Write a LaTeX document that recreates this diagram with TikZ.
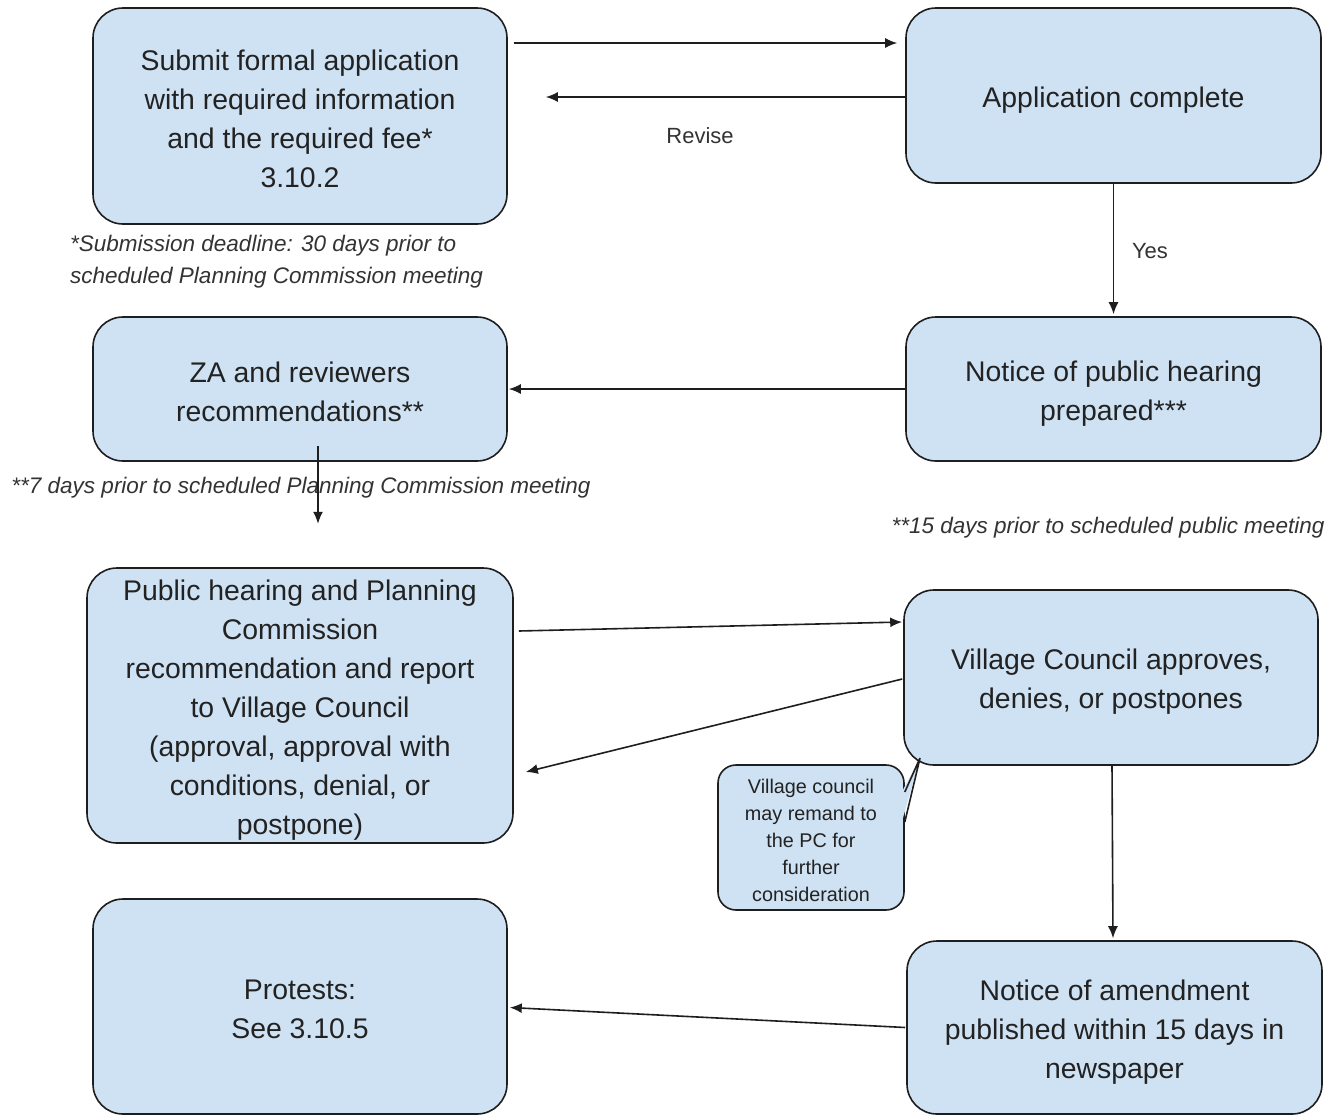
\documentclass[tikz,border=0pt]{standalone}
\usepackage{fontspec}
\setmainfont{Liberation Sans}
\usetikzlibrary{arrows.meta,calc}
\definecolor{boxfill}{HTML}{CFE2F3}
\definecolor{txt}{HTML}{222222}
\definecolor{notetxt}{HTML}{333333}
\definecolor{edge}{HTML}{1E1E1E}
\begin{document}
\begin{tikzpicture}[x=1pt,y=-1pt,
  box/.style={draw=edge,fill=boxfill,line width=1.6pt,rounded corners=30pt,inner sep=0pt},
  boxtext/.style={inner sep=0pt,align=center,text=txt,
    font=\fontsize{28.4}{39}\selectfont},
  calloutbox/.style={draw=edge,fill=boxfill,line width=1.6pt,rounded corners=18pt,inner sep=0pt},
  callouttext/.style={inner sep=0pt,align=center,text=txt,
    font=\fontsize{19.8}{26.8}\selectfont},
  note/.style={inner sep=0pt,text=notetxt,font=\fontsize{22.5}{32}\selectfont\itshape},
  lbl/.style={inner sep=0pt,text=notetxt,font=\fontsize{22}{26}\selectfont},
  conn/.style={draw=edge,line width=1.6pt,-{Latex[length=12pt,width=10pt]}}
]
\useasboundingbox (0,0) rectangle (1341,1114);
\fill[white] (0,0) rectangle (1341,1114);

% boxes
\node[box,minimum width=414pt,minimum height=216pt] (sub) at (300,116) {};
\node[boxtext] (subt) at ($(sub.center)+(0,3)$)
  {Submit formal application\\with required information\\and the required fee*\\3.10.2};
\node[box,minimum width=415pt,minimum height=175pt] (app) at (1113.5,95.5) {};
\node[boxtext] (appt) at ($(app.center)+(0,5)$) {Application complete};
\node[box,minimum width=414pt,minimum height=144pt] (za) at (300,389) {};
\node[boxtext] (zat) at ($(za.center)+(0,3)$) {ZA and reviewers\\recommendations**};
\node[box,minimum width=415pt,minimum height=144pt] (notice) at (1113.5,389) {};
\node[boxtext] (noticet) at ($(notice.center)+(0,4.5)$) {Notice of public hearing\\prepared***};
\node[box,minimum width=426pt,minimum height=275pt] (ph) at (300,705.5) {};
\node[boxtext] (pht) at ($(ph.center)+(0,4.5)$)
  {Public hearing and Planning\\Commission\\recommendation and report\\to Village Council\\(approval, approval with\\conditions, denial, or\\postpone)};
\node[box,minimum width=414pt,minimum height=175pt] (vc) at (1111,677.5) {};
\node[boxtext] (vct) at ($(vc.center)+(0,4.5)$) {Village Council approves,\\denies, or postpones};
\node[box,minimum width=414pt,minimum height=215pt] (prot) at (300,1006.5) {};
\node[boxtext] (prott) at ($(prot.center)+(0,2.5)$) {Protests:\\See 3.10.5};
\node[box,minimum width=415pt,minimum height=173pt] (amend) at (1114.5,1027.5) {};
\node[boxtext] (amendt) at ($(amend.center)+(0,4.5)$)
  {Notice of amendment\\published within 15 days in\\newspaper};

% callout
\node[calloutbox,minimum width=186pt,minimum height=145pt] (call) at (811,837.5) {};
\fill[boxfill] ($(call.east)+(-3,-45.5)$) coordinate (ta) -- (920,758) coordinate (tip)
  -- ($(call.east)+(-3,-15.5)$) coordinate (tb) -- cycle;
\draw[draw=edge,line width=1.6pt,line join=miter] ($(call.east)+(0,-45.5)$) -- (tip) -- ($(call.east)+(0,-15.5)$);
\node[callouttext] (callt) at ($(call.center)+(0,3)$)
  {Village council\\may remand to\\the PC for\\further\\consideration};

% notes
\node[note,anchor=west,align=left] (n1) at (70,262)
  {*Submission deadline: 30 days prior to\\scheduled Planning Commission meeting};
\node[note] (n2) at (301,488) {**7 days prior to scheduled Planning Commission meeting};
\node[note] (n3) at (1108,528) {**15 days prior to scheduled public meeting};
\node[lbl] (rev) at (700,135.5) {Revise};
\node[lbl] (yes) at (1150,251.5) {Yes};

% connectors
\draw[conn] ($(sub.east)+(6,-73)$) -- ($(app.west)+(-8,-52.5)$);
\draw[conn] ($(app.west)+(0,1.5)$) -- ($(sub.east)+(38,-19)$);
\draw[conn] (app.south) -- ($(notice.north)+(0,-2)$);
\draw[conn] (notice.west) -- ($(za.east)+(1,0)$);
\coordinate (zaend) at ($(za.south)+(18,62)$);
\draw[conn] ($(za.south)+(18,-16)$) -- (zaend);
\draw[conn] ($(ph.east)+(5,-74.5)$) -- ($(vc.west)+(-1,-55.5)$);
\draw[conn] ($(vc.west)+(-1,1.5)$) -- ($(ph.east)+(12,66.5)$);
\draw[conn] ($(vc.south)+(1,0)$) -- ($(amend.north)+(-1.5,-2)$);
\draw[conn] ($(amend.west)+(-1,0)$) -- ($(prot.east)+(2,1)$);
\end{tikzpicture}
\end{document}
